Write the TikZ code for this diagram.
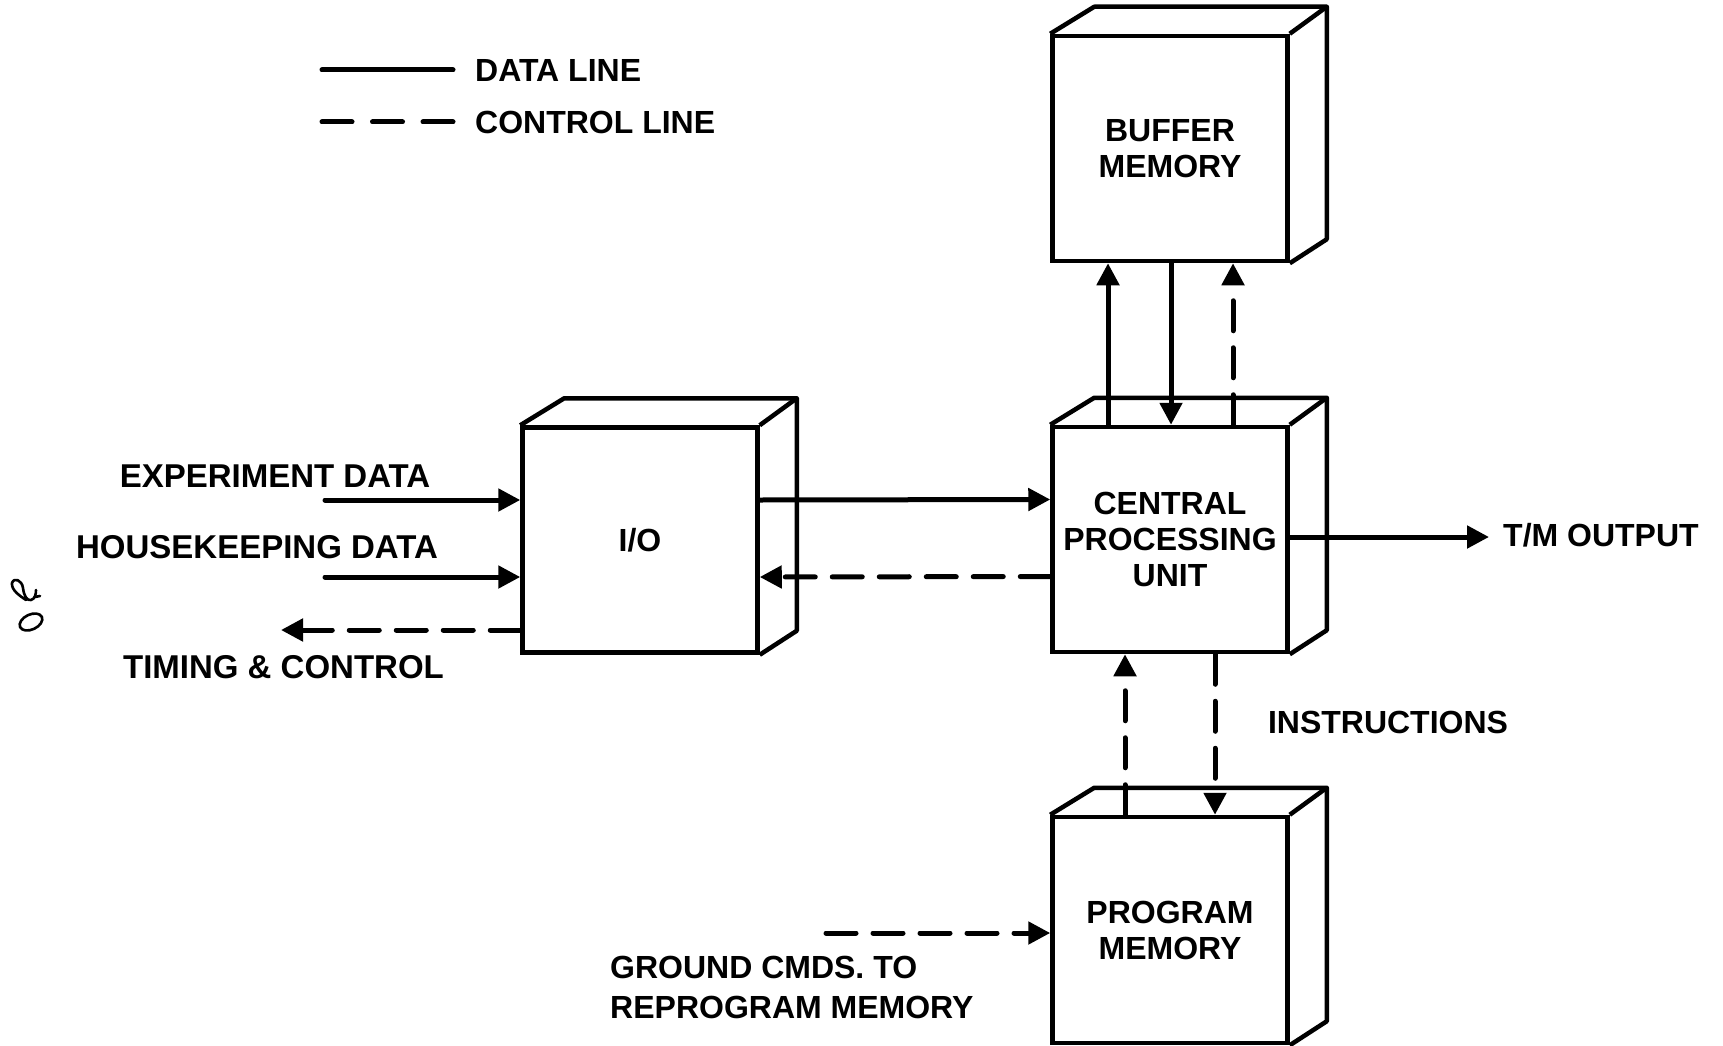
\documentclass[tikz,border=0pt]{standalone}
\usepackage{fontspec}
\setmainfont{Liberation Sans}
\usetikzlibrary{arrows.meta,calc}

\tikzset{
  box/.style={draw, line width=4.5pt, rectangle, minimum width=235pt, minimum height=225pt,
    inner sep=0pt, align=center, font=\lblfont},
  face/.style={line width=4.5pt, line join=round},
  lbl/.style={inner sep=0pt, font=\lblfont},
  biglbl/.style={inner sep=0pt, font=\fontsize{33}{36}\selectfont\bfseries},
  data/.style={line width=5pt, line cap=round},
  ctrl/.style={line width=5pt, line cap=round, dash pattern=on 30pt off 17pt},
  tip/.style={-{Triangle[length=22pt,width=22pt]}},
}
\newcommand{\lblfont}{\fontsize{32}{36}\selectfont\bfseries}
% top and side faces of a block (drawn in slight perspective)
\newcommand{\cubeside}[1]{%
  \draw[face] (#1.north west) -- ++(44,-27) -- ($(#1.north east)+(37,-27)$)
     -- ($(#1.south east)+(37,-24)$) -- (#1.south east);
  \draw[face] (#1.north east) -- ++(37,-27);
}

\begin{document}
\begin{tikzpicture}[x=1pt,y=-1pt]
\useasboundingbox[fill=white] (0,0) rectangle (1723,1046);

% blocks
\node[box] (buf) at (1170,148.5) {BUFFER\\MEMORY};
\node[box] (io)  at (640,540)  {I/O};
\node[box] (cpu) at (1170,539.5) {CENTRAL\\PROCESSING\\UNIT};
\node[box, minimum height=226pt] (pm) at (1170,930) {PROGRAM\\MEMORY};
\cubeside{buf}
\cubeside{io}
\cubeside{cpu}
\cubeside{pm}

% legend
\node[lbl, anchor=west] (lgdata) at (475,70) {DATA LINE};
\node[lbl, anchor=west] (lgctrl) at (475,122) {CONTROL LINE};
\draw[data] ([xshift=-153pt]lgdata.west) -- ++(131,0);
\draw[ctrl, dash pattern=on 30pt off 20.5pt] ([xshift=-153pt]lgctrl.west) -- ++(131,0);

% inputs and outputs of the I/O block
\node[biglbl] (lexp) at (275,476) {EXPERIMENT DATA};
\node[biglbl] (lhk)  at (257,547) {HOUSEKEEPING DATA};
\node[biglbl] (ltim) at (283.5,667) {TIMING \& CONTROL};
\coordinate (expsrc) at (325,500);
\coordinate (hksrc)  at (325,577);
\coordinate (timdst) at (281,630);
\draw[data,tip] (expsrc) -- ([yshift=40pt]io.west);
\draw[data,tip] (hksrc) -- ([yshift=-37pt]io.west);
\draw[ctrl,tip] ([yshift=-90pt]io.west) -- (timdst);

% I/O <-> CPU
\draw[data,tip] ([yshift=40pt]io.east) -- ([yshift=40pt]cpu.west);
\draw[ctrl,tip] ([yshift=-37pt]cpu.west) -- ([yshift=-37pt]io.east);

% telemetry output
\node[lbl, anchor=west] (ltm) at (1503,535) {T/M OUTPUT};
\coordinate (tmdst) at (1489,537);
\draw[data,tip] ([yshift=2.5pt]cpu.east) -- (tmdst);

% CPU <-> buffer memory
\draw[data,tip] ([xshift=-62pt]cpu.north) -- ([xshift=-62pt]buf.south);
\draw[data,tip] ([xshift=1pt]buf.south) -- ([xshift=1pt]cpu.north);
\draw[ctrl,tip] ([xshift=63pt]cpu.north) -- ([xshift=63pt]buf.south);

% CPU <-> program memory
\draw[ctrl,tip] ([xshift=-45pt]pm.north) -- ([xshift=-45pt]cpu.south);
\draw[ctrl,tip] ([xshift=45pt]cpu.south) -- ([xshift=45pt]pm.north);
\node[lbl] (linst) at (1388,722) {INSTRUCTIONS};

% ground commands
\node[lbl, anchor=west, align=left, font=\fontsize{32}{40}\selectfont\bfseries] (lgnd) at (610,987)
  {GROUND CMDS. TO\\REPROGRAM MEMORY};
\coordinate (gndsrc) at (826,933);
\draw[ctrl,tip] (gndsrc) -- ([yshift=-3pt]pm.west);

% pencil mark in the left margin
\draw[line width=2.6pt, line cap=round, line join=round]
  (26,600) .. controls (20,596) and (11,590) .. (12,583)
  .. controls (14,577) and (22,580) .. (23,588)
  .. controls (24,596) and (27,601) .. (31,600)
  .. controls (35,599) and (36,594) .. (36,590)
  (35,597) -- (40,596);
\draw[line width=2.6pt, rotate around={25:(31,622)}] (31,622) ellipse (12 and 7.5);
\end{tikzpicture}
\end{document}
